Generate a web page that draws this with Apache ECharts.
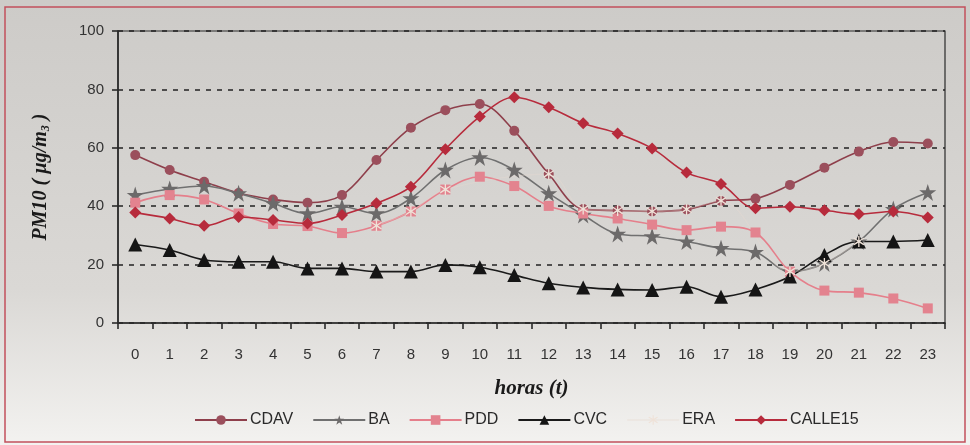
<!DOCTYPE html>
<html>
<head>
<meta charset="utf-8">
<script src="https://cdn.jsdelivr.net/npm/echarts@6/dist/echarts.min.js"></script>
<style>
html,body{margin:0;padding:0;background:#ffffff;}
#chart{width:970px;height:445px;}
</style>
</head>
<body>
<div id="chart"></div>
<script>
const hours = ['0','1','2','3','4','5','6','7','8','9','10','11','12','13','14','15','16','17','18','19','20','21','22','23'];
const yTicks = [0, 20, 40, 60, 80, 100];
const CDAV    = [57.5, 52.4, 48.4, 44.5, 42.3, 41.2, 43.8, 55.8, 66.9, 72.9, 75.0, 65.8, 51.0, 39.0, 38.5, 38.2, 38.9, 41.8, 42.6, 47.3, 53.2, 58.7, 62.0, 61.5];
const BA      = [43.8, 45.9, 46.9, 44.4, 41.0, 37.5, 39.8, 37.5, 42.7, 52.4, 56.7, 52.4, 44.4, 37.0, 30.5, 29.7, 27.9, 25.6, 24.3, 17.6, 20.4, 27.9, 39.0, 44.7];
const PDD     = [41.2, 43.8, 42.3, 37.5, 33.9, 33.2, 30.8, 33.3, 38.2, 45.7, 50.1, 46.9, 40.1, 37.5, 35.8, 33.7, 31.8, 33.0, 31.0, 17.6, 11.1, 10.4, 8.4, 5.0];
const CVC     = [26.9, 25.0, 21.6, 21.0, 21.0, 18.7, 18.7, 17.6, 17.6, 19.9, 19.1, 16.4, 13.6, 12.2, 11.5, 11.3, 12.4, 9.0, 11.5, 15.9, 23.3, 27.9, 27.9, 28.4];
const ERA     = [null, null, null, null, null, null, null, 33.3, 38.2, 45.7, null, null, 51.0, 39.0, 38.5, 38.2, 38.9, 41.8, null, 17.6, 20.4, 27.9, null, null];
const CALLE15 = [37.8, 35.8, 33.3, 36.3, 35.3, 34.1, 37.0, 41.0, 46.7, 59.5, 70.7, 77.3, 73.9, 68.4, 64.9, 59.8, 51.5, 47.6, 39.3, 39.8, 38.6, 37.3, 38.2, 36.1];

const chart = echarts.init(document.getElementById('chart'));

function mk(name, data, color, lineColor, symbol, size, extra) {
  return Object.assign({
    name: name, type: 'line', data: data, smooth: 0.35,
    symbol: symbol, symbolSize: size,
    itemStyle: { color: color },
    lineStyle: { color: lineColor, width: 1.6 },
    emphasis: { disabled: true }
  }, extra || {});
}

const starPath = 'path://M50,0 L61.8,35.5 L100,35.5 L69.1,57.5 L80.9,95 L50,72 L19.1,95 L30.9,57.5 L0,35.5 L38.2,35.5 Z';
const asterPath = 'path://M45,0 H55 V38 L85,15 L92,23 L60,48 L92,75 L85,83 L55,60 V100 H45 V60 L15,83 L8,75 L40,48 L8,23 L15,15 L45,38 Z';

chart.setOption({
  backgroundColor: {
    type: 'linear', x: 0, y: 0, x2: 0, y2: 1,
    colorStops: [{ offset: 0, color: '#cdcbc8' }, { offset: 0.65, color: '#dad8d5' }, { offset: 1, color: '#f3f2f0' }]
  },
  animation: false,
  textStyle: { fontFamily: 'Liberation Sans, Arial, sans-serif' },
  graphic: [{
    type: 'rect', shape: { x: 5, y: 7, width: 960, height: 435 },
    style: { fill: 'none', stroke: '#c2505c', lineWidth: 1.5 }, silent: true
  }],
  grid: { left: 118, right: 25, top: 31, bottom: 122, show: true, borderColor: '#2a2a2a', borderWidth: 1.2, backgroundColor: 'transparent' },
  legend: {
    bottom: 12, left: 189, itemWidth: 52, itemHeight: 12, itemGap: 19,
    textStyle: { fontSize: 16, color: '#2a2a2a', fontFamily: 'Liberation Sans, Arial, sans-serif', padding: [0, 0, 0, -2] },
    data: ['CDAV', 'BA', 'PDD', 'CVC', 'ERA', 'CALLE15']
  },
  xAxis: {
    type: 'category', data: hours, boundaryGap: true,
    name: 'horas (t)', nameLocation: 'middle', nameGap: 55,
    nameTextStyle: { fontFamily: 'Liberation Serif, Times New Roman, serif', fontStyle: 'italic', fontWeight: 'bold', fontSize: 21, color: '#1a1a1a' },
    axisLine: { lineStyle: { color: '#2a2a2a', width: 1.6 } },
    axisTick: { show: true, inside: false, length: 6, lineStyle: { color: '#2a2a2a', width: 1.6 } },
    axisLabel: { fontSize: 15, color: '#333', margin: 24 },
    splitLine: { show: false }
  },
  yAxis: {
    type: 'value', min: yTicks[0], max: yTicks[yTicks.length - 1], interval: 20,
    name: '{a|PM10 ( µg/m}{s|3}{a| )}', nameLocation: 'middle', nameGap: 66, nameRotate: 90,
    nameTextStyle: {
      rich: {
        a: { fontFamily: 'Liberation Serif, Times New Roman, serif', fontStyle: 'italic', fontWeight: 'bold', fontSize: 20, color: '#1a1a1a' },
        s: { fontFamily: 'Liberation Serif, Times New Roman, serif', fontStyle: 'italic', fontWeight: 'bold', fontSize: 12, color: '#1a1a1a', verticalAlign: 'bottom', padding: [10, 0, 0, 0] }
      }
    },
    axisLine: { show: true, lineStyle: { color: '#2a2a2a', width: 1.6 } },
    axisTick: { show: true, inside: false, length: 6, lineStyle: { color: '#2a2a2a', width: 1.6 } },
    axisLabel: { fontSize: 15, color: '#333', margin: 14 },
    splitLine: { show: true, lineStyle: { color: '#222', width: 1.6, type: [5, 6] } }
  },
  series: [
    mk('CDAV', CDAV, '#9b4f5c', '#8e3f4b', 'circle', 10),
    mk('BA', BA, '#6c6a6a', '#707070', starPath, 17),
    mk('PDD', PDD, '#e3838f', '#e57f8b', 'rect', 10),
    mk('CVC', CVC, '#151515', '#1a1a1a', 'triangle', 14),
    mk('ERA', ERA, '#efe2d8', 'rgba(233,219,208,0.35)', asterPath, 11, { connectNulls: true, lineStyle: { color: 'rgba(233,219,208,0.35)', width: 1.2 } }),
    mk('CALLE15', CALLE15, '#b72b3c', '#b72b3c', 'diamond', 12)
  ]
});
</script>
</body>
</html>
